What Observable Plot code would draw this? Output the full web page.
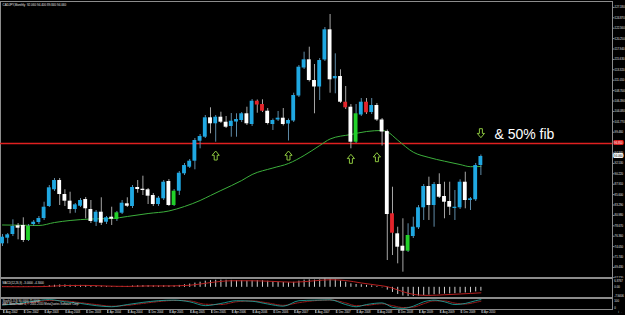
<!DOCTYPE html>
<html><head><meta charset="utf-8">
<script src="https://cdn.jsdelivr.net/npm/d3@7"></script>
<script src="https://cdn.jsdelivr.net/npm/@observablehq/plot@0.6"></script>
<style>
html,body{margin:0;padding:0;background:#000;}
#chart{position:relative;width:625px;height:315px;overflow:hidden;background:#000;}
#chart svg{position:absolute;left:0;}
</style></head><body><div id="chart"></div>
<script>
// ---- data (monthly bars, index 0 = Aug 2002) ----
const symbolName = "CADJPY,Monthly";
const open = [74.67,75.92,76.74,78.67,78.74,75.41,78.96,79.40,80.29,82.96,
86.67,88.73,85.62,84.14,82.29,83.02,84.51,82.29,79.47,81.69,
79.47,80.58,80.07,81.47,83.56,82.96,87.18,86.80,86.67,85.40,
83.40,84.67,88.51,83.18,86.36,90.22,91.69,93.02,97.46,98.35,
102.66,101.33,102.79,101.68,100.73,101.72,102.06,103.55,101.17,106.34,
105.61,104.12,101.17,102.17,102.57,101.28,101.95,107.50,113.72,115.54,
110.94,109.50,115.50,122.20,111.32,111.83,106.12,105.01,97.24,103.28,
106.12,103.83,105.39,102.17,99.61,81.34,76.89,74.14,73.03,76.29,
78.23,82.67,87.40,83.18,87.84,85.18,84.07,82.51,82.67,88.35,
84.29,84.45,92.06];
const high = [76.74,76.96,80.00,79.18,80.45,78.96,79.85,80.74,83.91,87.62,
89.18,89.18,86.67,86.13,83.62,84.73,84.96,84.29,82.07,84.89,
80.74,82.80,81.85,84.29,84.89,87.62,88.73,89.69,86.96,85.84,
85.18,88.73,88.95,86.73,90.73,92.51,93.40,98.06,98.95,103.17,
104.88,103.17,103.90,102.95,103.61,103.55,103.83,105.01,106.72,106.61,
106.66,104.72,102.39,104.06,104.72,102.39,108.12,114.27,117.23,118.34,
114.50,115.83,122.71,125.60,116.87,113.32,109.61,105.61,105.61,106.94,
106.94,106.94,105.83,102.50,99.95,87.24,78.36,80.23,79.12,80.58,
83.18,87.84,89.47,88.29,90.22,88.35,88.35,86.51,88.89,90.58,
84.96,92.51,94.40];
const low = [74.07,74.67,76.29,75.56,74.96,75.18,78.52,78.96,79.85,82.74,
86.29,83.18,82.96,81.34,81.47,82.74,80.23,79.18,78.52,78.74,
78.96,78.74,79.63,81.18,82.74,82.51,85.91,85.40,83.40,82.96,
82.96,84.29,82.96,82.96,85.40,89.84,91.40,91.11,95.77,98.06,
99.10,97.24,101.39,100.28,98.35,98.35,101.61,100.95,100.73,103.68,
103.83,101.06,99.84,101.84,100.84,97.51,101.61,107.17,113.39,110.61,
103.55,106.50,115.16,108.12,107.99,105.83,104.50,95.77,96.95,102.95,
103.39,103.39,101.84,96.39,70.96,72.07,70.23,68.37,72.74,75.85,
77.85,79.85,79.85,78.36,84.73,80.23,80.96,79.85,82.29,82.45,
82.07,84.07,89.84];
const close = [76.14,76.67,78.52,78.14,75.41,78.52,79.47,80.29,82.80,87.11,
88.73,85.62,84.14,82.29,83.33,84.29,82.45,79.63,81.69,79.25,
80.45,80.14,81.56,83.69,83.02,87.18,86.73,86.51,85.25,83.40,
84.80,88.35,83.18,86.36,90.35,92.06,93.02,97.62,98.50,102.66,
101.33,102.79,101.68,100.57,101.90,102.28,103.55,101.33,106.34,105.50,
104.12,101.39,102.06,102.57,101.17,102.06,107.61,113.90,115.54,110.94,
109.50,115.38,122.20,111.10,111.83,106.12,104.88,97.24,103.55,106.12,
103.77,105.39,102.17,99.50,81.18,77.03,73.92,73.03,76.52,78.36,
82.67,87.40,83.18,87.84,85.02,83.91,82.80,82.80,88.35,84.29,
84.67,92.06,94.06];
const redMarkedBars = [49,50,66,70,75];
const greenMarkedBars = [5,22,33,68,78];

const maBars   = [0,4,7,10,13,17,21,24,28,32,35,38,40,42,46,48,52,55,58,61,63,67,70,73,74,76,79,82,85,88,90,92];
const maValues = [78.85,78.80,78.74,79.40,79.85,80.18,80.29,80.74,81.40,81.96,82.96,84.29,85.40,86.51,88.73,90.06,91.51,92.51,94.29,96.50,97.95,98.95,99.61,99.84,99.55,97.70,95.02,93.85,93.02,92.28,91.80,91.84];

const fibLevel = 96.95;
const upArrowBars = [41,55,67,72];
const upArrowPrices = [94.28,94.28,93.55,93.91];
const downArrowBars = [92];
const downArrowPrices = [99.24];
const noteText = "& 50% fib";
const noteBar = 94.6;
const notePrice = 98.95;

const priceTickLabels = ["67.120","69.430","71.740","74.050","76.360","78.670","80.980","83.290","85.600","87.910","90.220","92.530","94.840","99.460","101.770","104.080","106.390","108.700","111.010","113.320","115.630","117.940","120.250","122.560","124.870","127.180"];
const timeTickLabels = ["1 Aug 2002","1 Dec 2002","1 Apr 2003","1 Aug 2003","1 Dec 2003","1 Apr 2004","1 Aug 2004","1 Dec 2004","1 Apr 2005","1 Aug 2005","1 Dec 2005","1 Apr 2006","1 Aug 2006","1 Dec 2006","1 Apr 2007","1 Aug 2007","1 Dec 2007","1 Apr 2008","1 Aug 2008","1 Dec 2008","1 Apr 2009","1 Aug 2009","1 Dec 2009","1 Apr 2010"];

const macdHist = [0.4,0.4,0.5,0.5,0.4,0.4,0.5,0.6,0.8,1.2,
1.6,1.8,1.8,1.6,1.5,1.5,1.4,1.1,1.0,0.9,
0.7,0.6,0.6,0.7,0.7,1.0,1.2,1.3,1.3,1.1,
1.0,1.2,1.1,1.1,1.5,2.0,2.5,3.3,4.0,4.8,
5.2,5.5,5.6,5.5,5.4,5.2,5.2,4.9,5.1,5.2,
5.1,4.7,4.4,4.1,3.8,3.6,3.9,4.8,5.6,5.8,
5.6,5.8,6.4,6.2,5.9,5.0,4.0,2.7,2.2,2.0,
1.5,1.1,0.6,-0.4,-2.2,-4.0,-5.6,-6.8,-7.2,-7.2,
-6.9,-6.5,-6.1,-5.8,-5.5,-5.3,-5.1,-5.0,-4.6,-4.4,
-4.3,-3.6,-3.0];
const macdSignalBars = [0,4,8,12,16,20,24,28,32,36,40,44,48,52,56,60,63,66,69,72,74,76,78,80,82,85,88,92];
const macdSignal = [0.5,0.45,0.6,1.4,1.5,1.0,0.7,1.1,1.1,1.6,3.7,5.1,5.1,4.6,4.0,5.1,5.9,5.3,3.4,1.7,0.5,-2.0,-4.6,-6.0,-6.3,-5.8,-5.2,-4.3];
const macdTickLabels = ["6.8767","0.00","-7.9406"];

const stochBars   = [0,3,6,9,12,15,18,21,24,27,30,33,36,39,42,45,48,51,54,57,60,63,66,68,70,73,75,77,79,81,83,85,87,89,91,92];
const stochMain   = [40,55,75,90,70,55,35,25,45,65,80,85,70,35,55,80,75,50,30,80,85,88,45,25,45,60,20,10,30,70,85,70,45,55,80,90];
const stochSignal = [45,50,65,82,78,62,45,30,38,55,72,82,78,48,45,70,78,60,38,62,80,86,60,35,38,52,35,18,22,52,78,78,58,50,65,75];
const stochTickLabels = ["100","0"];
const copyrightText = "MBT MetaTrader 4, \u00a9 2001-2010 MetaQuotes Software Corp.";

// ---- tables ----
const bars = open.map((o, i) => ({i, o, h: high[i], l: low[i], c: close[i]}));
const ma = maBars.map((i, k) => ({i, v: maValues[k]}));
const ups = upArrowBars.map((i, k) => ({i, p: upArrowPrices[k]}));
const downs = downArrowBars.map((i, k) => ({i, p: downArrowPrices[k]}));
const priceTicks = priceTickLabels.map(Number);
const hist = macdHist.map((v, i) => ({i, v}));
const sig = macdSignalBars.map((i, k) => ({i, v: macdSignal[k]}));
const stK = stochBars.map((i, k) => ({i, v: stochMain[k]}));
const stD = stochBars.map((i, k) => ({i, v: stochSignal[k]}));
const timeTicks = timeTickLabels.map((_, k) => k * 4);
const last = bars.length - 1;
const f3 = d3.format(".3f"), f4 = d3.format(".4f");

const colorOf = d => redMarkedBars.includes(d.i) ? "#e3242b"
  : greenMarkedBars.includes(d.i) ? "#22d12a"
  : d.c >= d.o ? "#1fa8e2" : "#ffffff";
const wickOf = d => d.c >= d.o ? "#5f8aa6" : "#a6a6a6";

const upArrow = {draw(ctx, size) {
  const r = Math.sqrt(size / Math.PI);
  ctx.moveTo(0, -r); ctx.lineTo(0.8 * r, -0.05 * r); ctx.lineTo(0.33 * r, -0.05 * r);
  ctx.lineTo(0.33 * r, r); ctx.lineTo(-0.33 * r, r); ctx.lineTo(-0.33 * r, -0.05 * r);
  ctx.lineTo(-0.8 * r, -0.05 * r); ctx.closePath();
}};
const downArrow = {draw(ctx, size) {
  const r = Math.sqrt(size / Math.PI);
  ctx.moveTo(0, r); ctx.lineTo(0.8 * r, 0.05 * r); ctx.lineTo(0.33 * r, 0.05 * r);
  ctx.lineTo(0.33 * r, -r); ctx.lineTo(-0.33 * r, -r); ctx.lineTo(-0.33 * r, 0.05 * r);
  ctx.lineTo(-0.8 * r, 0.05 * r); ctx.closePath();
}};

const xDomain = [-0.3846, 117.31];
const font = "Liberation Sans, Arial, sans-serif";
const small = 2.8;
const grid = "#8c8c8c";
const txt = "#e4e4e4";
const baseStyle = {background: "#000", color: txt, fontFamily: font, fontSize: small + "px", overflow: "visible"};

const main = Plot.plot({
  width: 625, height: 278, marginLeft: 0, marginRight: 13, marginTop: 1, marginBottom: 1,
  style: baseStyle,
  x: {domain: xDomain, axis: null},
  y: {domain: [67.19, 128.49], axis: null},
  marks: [
    Plot.frame({stroke: grid}),
    Plot.axisY(priceTicks, {anchor: "right", tickSize: 1.5, tickPadding: 0.6, tickFormat: f3, fill: txt, stroke: grid, fontSize: small}),
    Plot.ruleY([fibLevel], {stroke: "#e02020", strokeWidth: 1.3}),
    Plot.line(ma, {x: "i", y: "v", stroke: "#3caf3c", strokeWidth: 1, curve: "monotone-x"}),
    Plot.ruleX(bars, {x: "i", y1: "l", y2: "h", stroke: wickOf, strokeWidth: 1}),
    Plot.rect(bars, {x1: d => d.i - 0.37, x2: d => d.i + 0.37, y1: "o", y2: "c", fill: colorOf}),
    Plot.dot(ups, {x: "i", y: "p", symbol: upArrow, r: 4.5, stroke: "#8cc63f", fill: "none", strokeWidth: 1}),
    Plot.dot(downs, {x: "i", y: "p", symbol: downArrow, r: 4.5, stroke: "#8cc63f", fill: "none", strokeWidth: 1}),
    Plot.text([noteText], {x: noteBar, y: notePrice, text: d => d, textAnchor: "start", fill: "#ffffff", fontSize: 14, fontFamily: font}),
    Plot.text([`${symbolName}  ${f3(open[last])} ${f3(high[last])} ${f3(low[last])} ${f3(close[last])}`],
      {frameAnchor: "top-left", dx: 2, dy: 2.5, lineAnchor: "top", textAnchor: "start", fill: txt, fontSize: 3}),
    Plot.text([fibLevel], {x: xDomain[1], y: d => d, text: f3, dx: 1.6, textAnchor: "start", fill: "#ffffff", stroke: "#e02020", strokeWidth: 2.2, fontSize: small}),
    Plot.text([close[last]], {x: xDomain[1], y: d => d, text: f3, dx: 1.6, textAnchor: "start", fill: "#000000", stroke: "#ffffff", strokeWidth: 2.0, fontSize: small})
  ]
});
main.style.top = "0px";

const macd = Plot.plot({
  width: 625, height: 20, marginLeft: 0, marginRight: 13, marginTop: 0, marginBottom: 1,
  style: baseStyle,
  x: {domain: xDomain, axis: null},
  y: {domain: [-7.9406, 6.8767], axis: null},
  marks: [
    Plot.frame({stroke: grid}),
    Plot.ruleX(hist, {x: "i", y1: 0, y2: "v", stroke: "#cfcfcf", strokeWidth: 1}),
    Plot.line(sig, {x: "i", y: "v", stroke: "#b81f1f", strokeWidth: 1, curve: "monotone-x"}),
    Plot.text([`MACD(12,26,9) ${f4(macdHist[last])} ${f4(macdSignal[macdSignal.length - 1])}`],
      {frameAnchor: "top-left", dx: 2, dy: 3.2, lineAnchor: "top", textAnchor: "start", fill: txt, fontSize: small}),
    Plot.text([macdTickLabels[0]], {frameAnchor: "top-right", dx: 1.8, dy: 1.5, lineAnchor: "top", textAnchor: "start", fill: txt, fontSize: small}),
    Plot.text([macdTickLabels[1]], {x: xDomain[1], y: 0, dx: 1.8, textAnchor: "start", fill: txt, fontSize: small}),
    Plot.text([macdTickLabels[2]], {frameAnchor: "bottom-right", dx: 1.8, dy: -1, lineAnchor: "bottom", textAnchor: "start", fill: txt, fontSize: small})
  ]
});
macd.style.top = "278px";

const stoch = Plot.plot({
  width: 625, height: 17, marginLeft: 0, marginRight: 13, marginTop: 0, marginBottom: 6,
  style: baseStyle,
  x: {domain: xDomain, axis: null},
  y: {domain: [0, 100], axis: null},
  marks: [
    Plot.frame({stroke: grid}),
    Plot.line(stD, {x: "i", y: "v", stroke: "#d02525", strokeWidth: 0.8, strokeDasharray: "1.5,1", curve: "monotone-x"}),
    Plot.line(stK, {x: "i", y: "v", stroke: "#20b2aa", strokeWidth: 0.8, curve: "monotone-x"}),
    Plot.text([`Stoch(5,3,3) ${f4(stochMain[stochMain.length - 1])} ${f4(stochSignal[stochSignal.length - 1])}`],
      {frameAnchor: "top-left", dx: 2, dy: 1.3, lineAnchor: "top", textAnchor: "start", fill: txt, fontSize: small}),
    Plot.text([copyrightText], {frameAnchor: "top-left", dx: 2, dy: 4.6, lineAnchor: "top", textAnchor: "start", fill: txt, fontSize: small}),
    Plot.text([stochTickLabels[0]], {frameAnchor: "top-right", dx: 1.8, dy: 1, lineAnchor: "top", textAnchor: "start", fill: txt, fontSize: small}),
    Plot.text([stochTickLabels[1]], {frameAnchor: "bottom-right", dx: 1.8, dy: -1, lineAnchor: "bottom", textAnchor: "start", fill: txt, fontSize: small}),
    Plot.axisX(timeTicks, {anchor: "bottom", tickSize: 4, tickPadding: -2.8, dx: 1, textAnchor: "start",
      tickFormat: i => timeTickLabels[i / 4], fill: txt, stroke: grid, fontSize: small})
  ]
});
stoch.style.top = "298px";

const root = document.getElementById("chart");
root.append(main, macd, stoch);
</script></body></html>
